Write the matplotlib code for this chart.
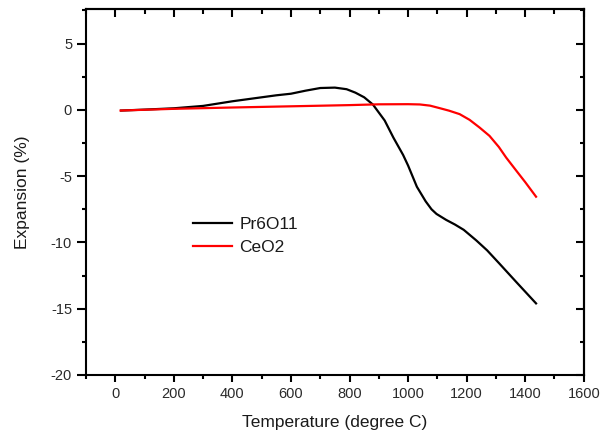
import matplotlib
matplotlib.use("Agg")
import matplotlib.pyplot as plt
from matplotlib.ticker import MultipleLocator

plt.rcParams['font.family'] = ['Liberation Sans', 'DejaVu Sans']
plt.rcParams['axes.unicode_minus'] = False

# Pr6O11 dilatometer curve (temperature in degree C, expansion in %)
pr_temp = [20, 100, 200, 300, 400, 500, 550, 600, 650, 700, 750, 790, 820, 850,
           880, 920, 950, 983, 1000, 1030, 1060, 1080, 1097, 1130, 1160, 1190,
           1233, 1270, 1312, 1370, 1437]
pr_exp = [-0.05, 0.02, 0.12, 0.3, 0.65, 0.95, 1.1, 1.22, 1.45, 1.65, 1.68, 1.56,
          1.3, 0.95, 0.4, -0.8, -2.1, -3.4, -4.2, -5.8, -6.9, -7.5, -7.85, -8.3,
          -8.65, -9.05, -9.85, -10.6, -11.6, -13.0, -14.6]

# CeO2 dilatometer curve
ce_temp = [18, 200, 400, 600, 800, 900, 1000, 1040, 1075, 1108, 1140, 1176,
           1210, 1244, 1278, 1310, 1335, 1370, 1400, 1437]
ce_exp = [-0.05, 0.08, 0.18, 0.27, 0.36, 0.42, 0.43, 0.41, 0.32, 0.13, -0.06,
          -0.32, -0.75, -1.33, -1.96, -2.8, -3.6, -4.6, -5.45, -6.55]

fig = plt.figure(figsize=(6.1, 4.36), dpi=100)
ax = fig.add_axes([0.141, 0.140, 0.816, 0.839])

ax.plot(pr_temp, pr_exp, color='black', lw=1.6, label='Pr6O11')
ax.plot(ce_temp, ce_exp, color='#ff0000', lw=1.6, label='CeO2')

ax.set_xlim(-100, 1600)
ax.set_ylim(-20, 7.6)
ax.xaxis.set_major_locator(MultipleLocator(200))
ax.xaxis.set_minor_locator(MultipleLocator(100))
ax.yaxis.set_major_locator(MultipleLocator(5))
ax.yaxis.set_minor_locator(MultipleLocator(2.5))

for s in ax.spines.values():
    s.set_linewidth(1.5)

ax.tick_params(which='both', direction='out', width=1.5, labelsize=10.5,
               labelcolor='#2a2a2a', top=False, right=False)
ax.tick_params(axis='y', which='major', length=6.5)
ax.tick_params(axis='y', which='minor', length=3.2)
ax.tick_params(axis='x', which='major', length=5)
ax.tick_params(axis='x', which='minor', length=2.8)

# inward ticks on top and right, no labels
top = ax.secondary_xaxis('top')
top.xaxis.set_major_locator(MultipleLocator(200))
top.xaxis.set_minor_locator(MultipleLocator(100))
top.tick_params(which='both', direction='in', width=1.5, labeltop=False)
top.tick_params(which='major', length=6)
top.tick_params(which='minor', length=3.6)
right = ax.secondary_yaxis('right')
right.yaxis.set_major_locator(MultipleLocator(5))
right.yaxis.set_minor_locator(MultipleLocator(2.5))
right.tick_params(which='both', direction='in', width=1.5, labelright=False)
right.tick_params(which='major', length=6)
right.tick_params(which='minor', length=3.2)
for sec in (top, right):
    for s in sec.spines.values():
        s.set_linewidth(1.5)

ax.set_xlabel('Temperature (degree C)', fontsize=12.5, labelpad=10,
              color='#1a1a1a')
ax.set_ylabel('Expansion (%)', fontsize=12.5, labelpad=15, color='#1a1a1a')

leg = ax.legend(loc='upper left', bbox_to_anchor=(0.214, 0.432), frameon=False,
                fontsize=12.5, handlelength=2.3, handletextpad=0.4,
                labelspacing=0.47, borderpad=0, borderaxespad=0)
for t in leg.get_texts():
    t.set_color('#1a1a1a')

fig.savefig('out.png', dpi=100)
